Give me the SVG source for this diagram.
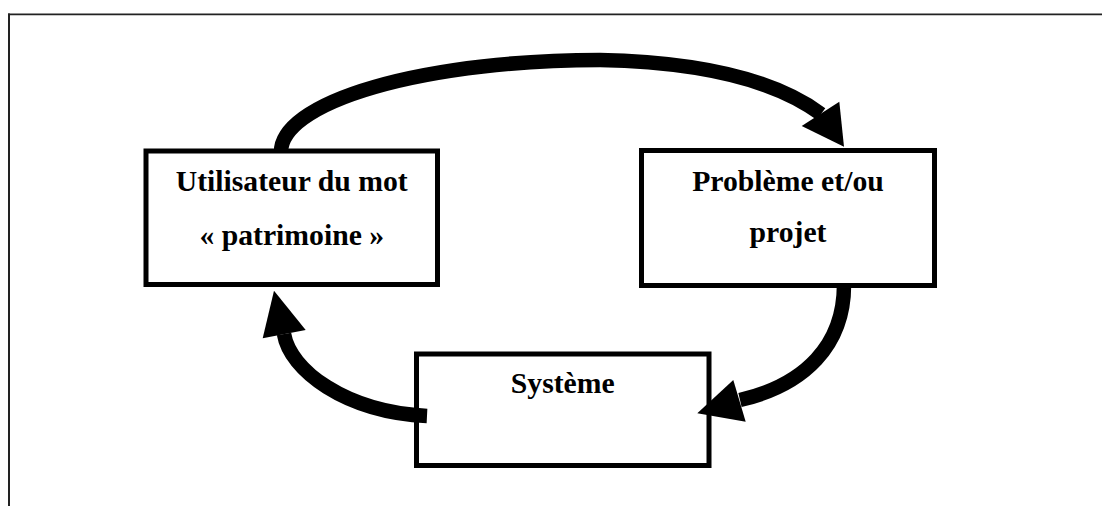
<svg xmlns="http://www.w3.org/2000/svg" width="1102" height="506" viewBox="0 0 1102 506">
<style>
.frame{stroke:#222;fill:none}
.box{fill:#fff;stroke:#000;stroke-width:5}
.lbl{font-family:"Liberation Serif","Times New Roman",serif;font-weight:bold;font-size:29.7px;fill:#000;text-anchor:middle}
.shaft{fill:none;stroke:#000;stroke-width:14.5;stroke-linecap:butt}
.head{fill:#000;stroke:none}
</style>
<rect width="1102" height="506" fill="#fff"/>
<g id="frame">
<line class="frame" x1="8" y1="14.3" x2="1102" y2="14.3" stroke-width="1.8"/>
<line class="frame" x1="9" y1="13.5" x2="9" y2="506" stroke-width="2"/>
</g>
<g id="node-utilisateur">
<rect class="box" x="146" y="151" width="291.5" height="133.5"/>
<text class="lbl" x="291.75" y="190.7">Utilisateur du mot</text>
<text class="lbl" x="291.75" y="245">« patrimoine »</text>
</g>
<g id="node-probleme">
<rect class="box" x="641.5" y="150.5" width="293" height="135"/>
<text class="lbl" x="788" y="190.7">Problème et/ou</text>
<text class="lbl" x="788" y="242">projet</text>
</g>
<g id="node-systeme">
<rect class="box" x="416.5" y="354" width="292.5" height="111.5"/>
<text class="lbl" x="562.75" y="393.3">Système</text>
</g>
<g id="connectors">
<path class="shaft" d="M 281 152 A 319 92 0 0 1 600 60 C 700 62 775 80 821 114"/>
<polygon class="head" points="839.3,101.7 844,146.7 801.7,126"/>
<path class="shaft" d="M 844 285 C 844 345 805 385 740 400"/>
<polygon class="head" points="733.3,380 697.3,413.3 745.7,421.7"/>
<path class="shaft" d="M 427 416 C 345 412 290 370 284 334"/>
<polygon class="head" points="262.7,338.3 274,290.7 305.7,330"/>
</g>
</svg>
